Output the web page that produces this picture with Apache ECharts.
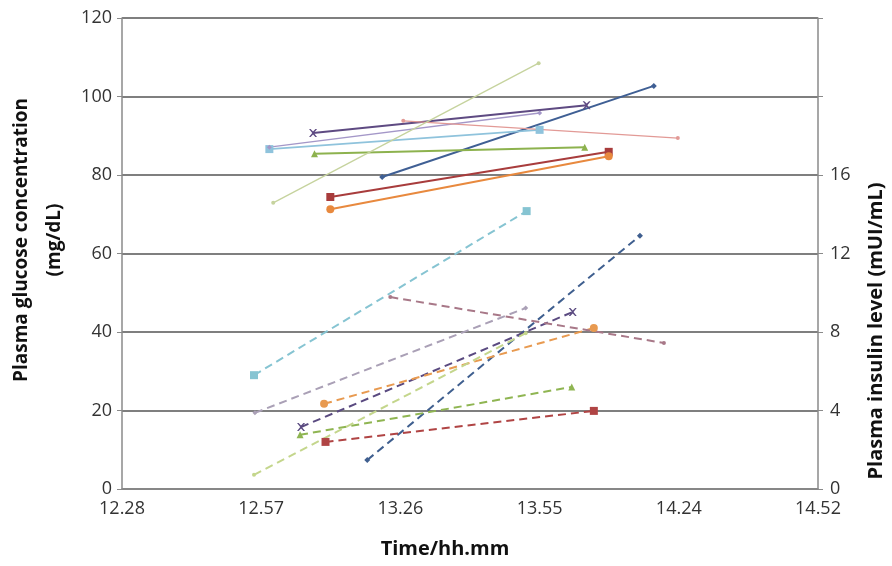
<!DOCTYPE html>
<html>
<head>
<meta charset="utf-8">
<script src="https://cdn.jsdelivr.net/npm/echarts@6/dist/echarts.min.js"></script>
<style>html,body{margin:0;padding:0;background:#fff}#c{width:892px;height:566px}</style>
</head>
<body>
<div id="c"></div>
<script>
// x values: minutes after 12:28 (axis steps of 29 min)
const xTickLabels = ['12.28', '12.57', '13.26', '13.55', '14.24', '14.52'];
const leftTickLabels = [0, 20, 40, 60, 80, 100, 120];
const rightTickLabels = [0, 4, 8, 12, 16];
const subjects = ['S1', 'S2', 'S3', 'S4', 'S5', 'S6', 'S7', 'S8', 'S9'];

// Plasma glucose (mg/dL), solid lines
const glucoseT0 = [54.2, 43.4, 40.1, 39.8, 30.7, 43.4, 30.7, 58.6, 31.5];
const glucoseT1 = [110.8, 101.4, 96.4, 96.8, 87.0, 101.4, 87.0, 115.8, 86.8];
const glucose0 = [79.5, 74.4, 85.4, 90.7, 86.6, 71.3, 87.1, 93.8, 72.9];
const glucose1 = [102.7, 85.9, 87.1, 97.8, 91.5, 84.8, 95.8, 89.4, 108.5];

// Plasma insulin (mUI/mL), dashed lines
const insulinT0 = [51.1, 42.4, 37.1, 37.3, 27.5, 42.1, 27.7, 55.9, 27.5];
const insulinT1 = [107.9, 98.3, 93.7, 93.9, 84.3, 98.3, 84.1, 112.9, 84.1];
const insulin0 = [1.48, 2.4, 2.76, 3.16, 5.8, 4.34, 3.88, 9.78, 0.72];
const insulin1 = [12.9, 3.98, 5.2, 9.02, 14.16, 8.2, 9.22, 7.44, 7.94];

// styles
const solidColors = ['#3f5f94', '#a83c3c', '#8db24e', '#5e4a82', '#8fc3dc', '#e8893e', '#a497c8', '#e29a96', '#c6d39e'];
const dashColors = ['#3f5f8f', '#b04444', '#8fb552', '#5a4a80', '#86c4d2', '#e89a50', '#aaa0b6', '#a87888', '#c4d68c'];
const markers = ['diamond', 'rect', 'triangle', 'path://M0,0L2,0L5,3L8,0L10,0L6,5L10,10L8,10L5,7L2,10L0,10L4,5Z', 'rect', 'circle', 'diamond', 'circle', 'circle'];
const markerSizes = [6, 8, 7, 8, 8, 8, 5, 4, 4];
const solidWidths = [2, 2, 2, 2, 1.6, 2, 1.4, 1.3, 1.3];

const series = [];
subjects.forEach((s, i) => {
  series.push({
    name: s + ' glucose', type: 'line', yAxisIndex: 0,
    data: [[glucoseT0[i], glucose0[i]], [glucoseT1[i], glucose1[i]]],
    symbol: markers[i], symbolSize: markerSizes[i], showSymbol: true,
    lineStyle: { color: solidColors[i], width: solidWidths[i] },
    itemStyle: { color: solidColors[i] },
    animation: false, z: 3
  });
});
subjects.forEach((s, i) => {
  series.push({
    name: s + ' insulin', type: 'line', yAxisIndex: 1,
    data: [[insulinT0[i], insulin0[i]], [insulinT1[i], insulin1[i]]],
    symbol: markers[i], symbolSize: markerSizes[i], showSymbol: true,
    lineStyle: { color: dashColors[i], width: 2, type: [8, 5] },
    itemStyle: { color: dashColors[i] },
    animation: false, z: 3
  });
});

const font = '"Open Sans", "DejaVu Sans", sans-serif';
const chart = echarts.init(document.getElementById('c'), null, { renderer: 'canvas' });
chart.setOption({
  animation: false,
  backgroundColor: '#fff',
  grid: { left: 122, right: 74, top: 18, bottom: 77 },
  xAxis: {
    type: 'value', min: 0, max: 145, interval: 29,
    axisLine: { show: true, lineStyle: { color: '#8a8a8a', width: 1.5 } },
    axisTick: { show: false },
    splitLine: { show: false },
    axisLabel: {
      color: '#333', fontSize: 18, fontFamily: font, margin: 11,
      formatter: v => xTickLabels[Math.round(v / 29)] || ''
    }
  },
  yAxis: [
    {
      type: 'value', min: 0, max: 120, interval: 20, position: 'left',
      axisLine: { show: true, lineStyle: { color: '#8a8a8a', width: 1.5 } },
      axisTick: { show: true, length: 5, lineStyle: { color: '#8a8a8a' } },
      splitLine: { show: true, lineStyle: { color: '#7f7f7f', width: 2 } },
      axisLabel: {
        color: '#333', fontSize: 18, fontFamily: font, margin: 10,
        formatter: v => leftTickLabels.includes(v) ? String(v) : ''
      }
    },
    {
      type: 'value', min: 0, max: 24, interval: 4, position: 'right',
      axisLine: { show: true, lineStyle: { color: '#8a8a8a', width: 1.5 } },
      axisTick: { show: true, length: 5, lineStyle: { color: '#8a8a8a' } },
      splitLine: { show: false },
      axisLabel: {
        color: '#333', fontSize: 18, fontFamily: font, margin: 12,
        formatter: v => rightTickLabels.includes(v) ? String(v) : ''
      }
    }
  ],
  graphic: [
    { type: 'text', x: 22, y: 240, rotation: Math.PI / 2, style: { text: 'Plasma glucose concentration', font: 'bold 19px ' + font, fill: '#111', align: 'center', verticalAlign: 'middle' } },
    { type: 'text', x: 55, y: 240, rotation: Math.PI / 2, style: { text: '(mg/dL)', font: 'bold 19px ' + font, fill: '#111', align: 'center', verticalAlign: 'middle' } },
    { type: 'text', x: 876, y: 331, rotation: Math.PI / 2, style: { text: 'Plasma insulin level (mUI/mL)', font: 'bold 20px ' + font, fill: '#111', align: 'center', verticalAlign: 'middle' } },
    { type: 'text', x: 445, y: 549, style: { text: 'Time/hh.mm', font: 'bold 20px ' + font, fill: '#111', align: 'center', verticalAlign: 'middle' } }
  ],
  series: series
});
</script>
</body>
</html>
